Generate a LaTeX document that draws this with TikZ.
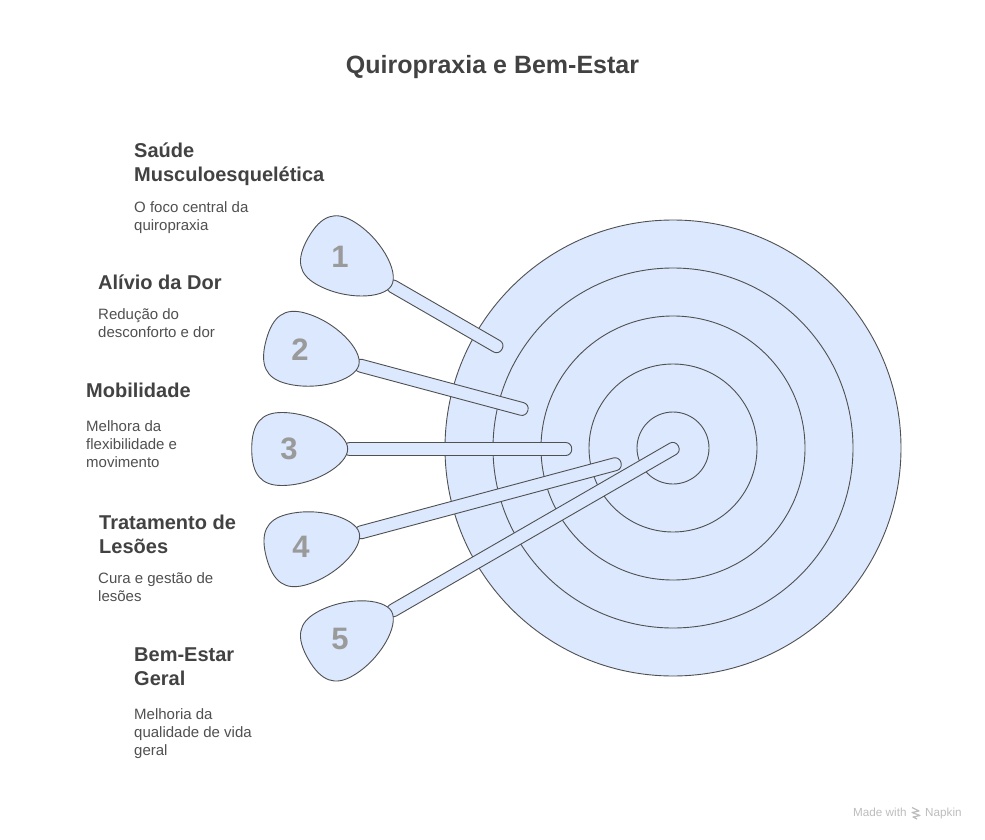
\documentclass[tikz,border=0pt]{standalone}
\usepackage{fontspec}
\setmainfont{Liberation Sans}
\definecolor{inkc}{HTML}{505050}
\definecolor{fillc}{HTML}{DBE8FE}
\definecolor{numc}{HTML}{9A9A9A}
\definecolor{headc}{HTML}{424242}
\definecolor{descc}{HTML}{505050}
\definecolor{markc}{HTML}{BDBDBD}
\tikzset{
 ringc/.style={draw=inkc,line width=0.9pt,fill=fillc},
 titletxt/.style={anchor=base,inner sep=0pt,text=headc,font=\fontsize{25}{30}\selectfont\bfseries},
 headtxt/.style={anchor=north west,inner sep=0pt,align=left,text=headc,font=\fontsize{20}{24}\selectfont\bfseries,execute at begin node={\rule{0pt}{15pt}}},
 desctxt/.style={anchor=north west,inner sep=0pt,align=left,text=descc,font=\fontsize{15}{18}\selectfont,execute at begin node={\rule{0pt}{11pt}}},
 numtxt/.style={inner sep=0pt,text=numc,font=\fontsize{31}{31}\selectfont\bfseries},
 marktxt/.style={anchor=base west,inner sep=0pt,text=markc,font=\fontsize{11.7}{13}\selectfont},
}
% #1 base point, #2 canvas angle, #3 shaft length
\newcommand{\dartshape}[3]{%
 \begin{scope}[shift={#1},rotate=#2]
  \draw[ringc,rounded corners=6pt] (-4,-6.5) -- (#3,-6.5) -- (#3,6.5) -- (-4,6.5) -- cycle;
  \draw[ringc] (0,0) .. controls (0,-16) and (-34,-36.5) .. (-66,-36.5)
     .. controls (-86,-36.5) and (-96,-26) .. (-96,0)
     .. controls (-96,26) and (-86,36.5) .. (-66,36.5)
     .. controls (-34,36.5) and (0,16) .. (0,0) -- cycle;
 \end{scope}}
\begin{document}
\begin{tikzpicture}[x=1pt,y=-1pt]
\useasboundingbox (0,0) rectangle (985,840);
\fill[white] (0,0) rectangle (985,840);
\node[titletxt] (title) at (492.5,74) {Quiropraxia e Bem-Estar};
\foreach \r in {228,180,132,84,36} \draw[ringc] (673,448) circle[radius=\r];
\dartshape{(391.5,285.5)}{-30}{127.5}
\dartshape{(358.8,365.2)}{-15}{175}
\dartshape{(347.7,449)}{0}{224}
\dartshape{(359.2,532.8)}{15}{271}
\dartshape{(391.5,611.3)}{30}{331}
\node[numtxt] (n1) at (340,257) {1};
\node[numtxt] (n2) at (300,349.5) {2};
\node[numtxt] (n3) at (289,449) {3};
\node[numtxt] (n4) at (301,547) {4};
\node[numtxt] (n5) at (340,639) {5};
\node[headtxt] (h1) at (134,143) {Saúde\\Musculoesquelética};
\node[desctxt] (d1) at (134,201) {O foco central da\\quiropraxia};
\node[headtxt] (h2) at (98,274) {Alívio da Dor};
\node[desctxt] (d2) at (98,308.5) {Redução do\\desconforto e dor};
\node[headtxt] (h3) at (86,382) {Mobilidade};
\node[desctxt] (d3) at (86,420) {Melhora da\\flexibilidade e\\movimento};
\node[headtxt] (h4) at (99,515) {Tratamento de\\Lesões};
\node[desctxt] (d4) at (98,572.5) {Cura e gestão de\\lesões};
\node[headtxt] (h5) at (134,648) {Bem-Estar\\Geral};
\node[desctxt] (d5) at (134,708) {Melhoria da\\qualidade de vida\\geral};
\node[marktxt] (m1) at (853,816.5) {Made with};
\node[marktxt] (m2) at (925,816.5) {Napkin};
\draw[markc,line width=1.2pt,line join=round] (912,807.5) -- (919,811) -- (912,812.5) -- (920,815.5) -- (913,817) -- (917,819);
\end{tikzpicture}
\end{document}
